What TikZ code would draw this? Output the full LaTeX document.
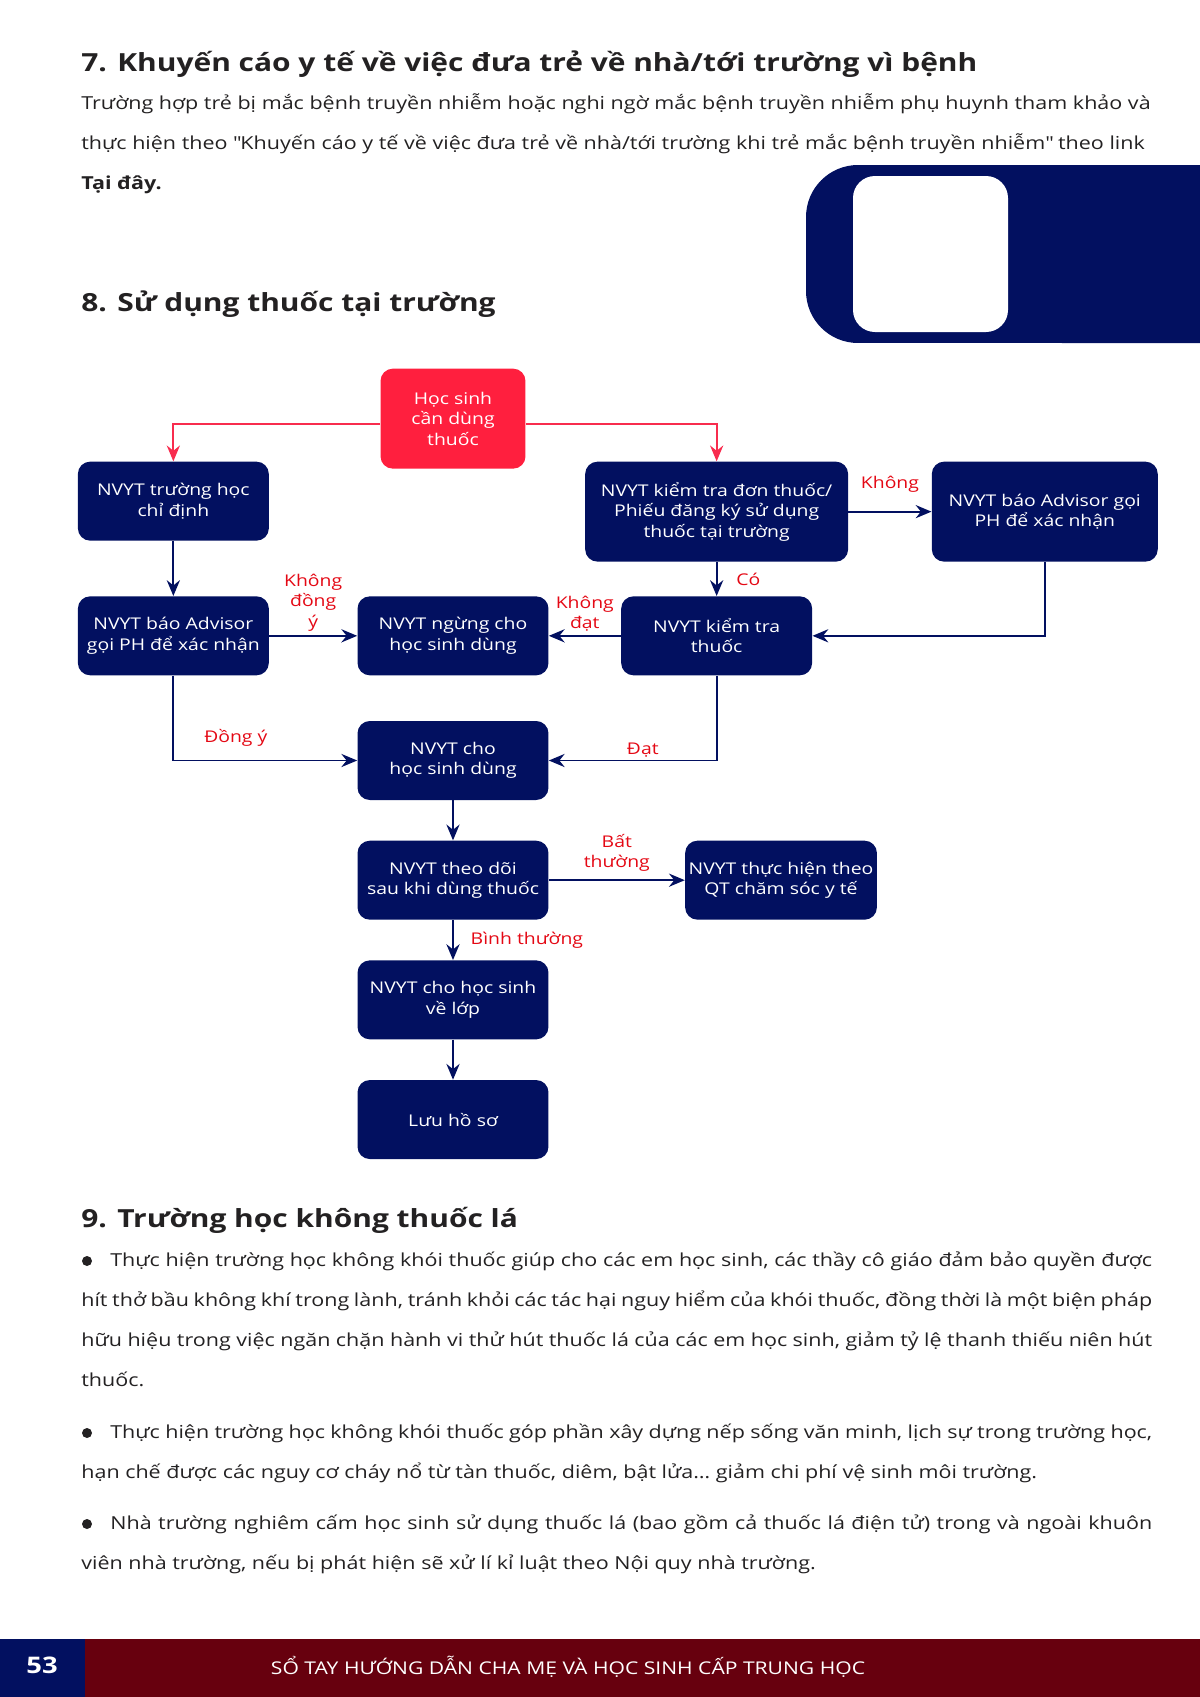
\documentclass[tikz,border=0pt]{standalone}
\usepackage{fontspec}
\setmainfont{Open Sans}[FakeStretch=1.2]
\usetikzlibrary{positioning, arrows.meta}

\definecolor{navy}{RGB}{2,16,96}
\definecolor{alert}{RGB}{255,31,62}
\definecolor{redline}{RGB}{248,44,78}
\definecolor{redtext}{RGB}{228,8,20}
\definecolor{maroon}{RGB}{103,0,14}
\definecolor{ink}{RGB}{35,33,34}

\newcommand\flowfont{\fontsize{9.2}{11.6}\selectfont}
\newcommand\parafont{\fontsize{10.2}{22.7}\selectfont}
\newcommand\headfont{\fontsize{14.2}{17}\selectfont\bfseries}
\newcommand\jline[1]{\makebox[21.42cm][s]{#1}}

\begin{document}
\begin{tikzpicture}[
    x=0.02cm, y=-0.02cm,
    >={Stealth[length=9pt, width=7.5pt, inset=3pt]},
    node distance=0.8cm,
    box/.style={fill=navy, rounded corners=7pt, text=white, font=\flowfont,
                align=center, minimum width=3.82cm, minimum height=1.58cm,
                inner sep=2pt},
    tall/.style={box, minimum height=2cm},
    start/.style={tall, fill=alert, minimum width=2.9cm},
    lbl/.style={text=redtext, font=\flowfont, align=center, inner sep=1pt},
    flow/.style={->, draw=navy, line width=1.1pt},
    redflow/.style={->, draw=redline, line width=1pt},
    heading/.style={anchor=base west, inner sep=0pt, text=ink, font=\headfont},
    para/.style={anchor=base west, inner sep=0pt, text=ink, font=\parafont,
                 align=left}
]
\useasboundingbox (0,0) rectangle (1200,1697);

%---------------- Top band ----------------
\fill[navy] (1200,165) -- (858,165)
    arc[start angle=90, end angle=180, radius=1.04cm] -- (806,291)
    arc[start angle=180, end angle=270, radius=1.04cm] -- (1200,343) -- cycle;
\fill[white, rounded corners=0.44cm] (853,176) rectangle (1008,332);

%---------------- Section 7 ----------------
% para nodes sit on the baseline of their last line
\node[heading] (h7) at (81,71) {7. Khuyến cáo y tế về việc đưa trẻ về nhà/tới trường vì bệnh};
\node[para] (p7) at (81,189) {Trường hợp trẻ bị mắc bệnh truyền nhiễm hoặc nghi ngờ mắc bệnh truyền nhiễm phụ huynh tham khảo và\\
thực hiện theo \textquotedbl Khuyến cáo y tế về việc đưa trẻ về nhà/tới trường khi trẻ mắc bệnh truyền nhiễm\textquotedbl{} theo link\\
\textbf{Tại đây.}};

%---------------- Section 8 ----------------
\node[heading] (h8) at (81,311) {8. Sử dụng thuốc tại trường};

\node[box] (cho) at (453,760.5) {NVYT cho\\học sinh dùng};
\node[box, above=0.9cm of cho] (ngung) {NVYT ngừng cho\\học sinh dùng};
\node[box, left=1.76cm of ngung] (baoL) {NVYT báo Advisor\\gọi PH để xác nhận};
\node[box, right=1.44cm of ngung] (ktThuoc) {NVYT kiểm tra\\thuốc};
\node[box, above=1.1cm of baoL] (chiDinh) {NVYT trường học\\chỉ định};
\node[tall, minimum width=5.26cm, above=0.68cm of ktThuoc] (ktDon)
    {NVYT kiểm tra đơn thuốc/\\Phiếu đăng ký sử dụng\\thuốc tại trường};
\node[tall, minimum width=4.52cm, right=1.66cm of ktDon] (baoR)
    {NVYT báo Advisor gọi\\PH để xác nhận};
\node[start, above=2.54cm of ngung] (hs) {Học sinh\\cần dùng\\thuốc};
\node[box, below=of cho] (theoDoi) {NVYT theo dõi\\sau khi dùng thuốc};
\node[box, right=2.72cm of theoDoi] (qt) {NVYT thực hiện theo\\QT chăm sóc y tế};
\node[box, below=of theoDoi] (veLop) {NVYT cho học sinh\\về lớp};
\node[box, below=of veLop] (luu) {Lưu hồ sơ};

\draw[redflow] ([yshift=-0.1cm]hs.west) -| (chiDinh.north);
\draw[redflow] ([yshift=-0.1cm]hs.east) -| (ktDon.north);
\draw[flow] (chiDinh) -- (baoL);
\draw[flow] (ktDon) -- node[lbl, right=0.34cm] {Có} (ktThuoc);
\draw[flow] (ktDon) -- node[lbl, above=0.34cm] {Không} (baoR);
\draw[flow] (baoR.south) |- (ktThuoc.east);
\draw[flow] (ktThuoc) -- node[lbl, above=0.03cm] {Không\\đạt} (ngung);
\draw[flow] (baoL) -- node[lbl, above=0.04cm] {Không\\đồng\\ý} (ngung);
\draw[flow] (baoL.south) |- node[lbl, pos=0.67, above=0.22cm] {Đồng ý} (cho.west);
\draw[flow] (ktThuoc.south) |- node[lbl, pos=0.72, above=0.02cm] {Đạt} (cho.east);
\draw[flow] (cho) -- (theoDoi);
\draw[flow] (theoDoi) -- node[lbl, above=0.12cm] {Bất\\thường} (qt);
\draw[flow] (theoDoi) -- node[lbl, right=0.3cm] {Bình thường} (veLop);
\draw[flow] (veLop) -- (luu);

%---------------- Section 9 ----------------
\node[heading] (h9) at (81,1227) {9. Trường học không thuốc lá};
\fill[ink] (87,1261) circle[radius=0.1cm];
\node[para] (b1) at (81,1386) {\jline{\hspace{0.58cm}Thực hiện trường học không khói thuốc giúp cho các em học sinh, các thầy cô giáo đảm bảo quyền được}\\
\jline{hít thở bầu không khí trong lành, tránh khỏi các tác hại nguy hiểm của khói thuốc, đồng thời là một biện pháp}\\
\jline{hữu hiệu trong việc ngăn chặn hành vi thử hút thuốc lá của các em học sinh, giảm tỷ lệ thanh thiếu niên hút}\\
thuốc.};
\fill[ink] (87,1433) circle[radius=0.1cm];
\node[para] (b2) at (81,1478) {\jline{\hspace{0.58cm}Thực hiện trường học không khói thuốc góp phần xây dựng nếp sống văn minh, lịch sự trong trường học,}\\
hạn chế được các nguy cơ cháy nổ từ tàn thuốc, diêm, bật lửa… giảm chi phí vệ sinh môi trường.};
\fill[ink] (87,1524) circle[radius=0.1cm];
\node[para] (b3) at (81,1569) {\jline{\hspace{0.58cm}Nhà trường nghiêm cấm học sinh sử dụng thuốc lá (bao gồm cả thuốc lá điện tử) trong và ngoài khuôn}\\
viên nhà trường, nếu bị phát hiện sẽ xử lí kỉ luật theo Nội quy nhà trường.};

%---------------- Footer ----------------
\fill[navy] (0,1639) rectangle (85,1697);
\fill[maroon] (85,1639) rectangle (1200,1697);
\node[anchor=base, text=white, font=\fontsize{13}{15}\selectfont\bfseries] (page) at (42,1673) {53};
\node[anchor=base, text=white, font=\fontsize{10}{13}\selectfont] (foot) at (568,1674)
    {SỔ TAY HƯỚNG DẪN CHA MẸ VÀ HỌC SINH CẤP TRUNG HỌC};

\end{tikzpicture}
\end{document}
